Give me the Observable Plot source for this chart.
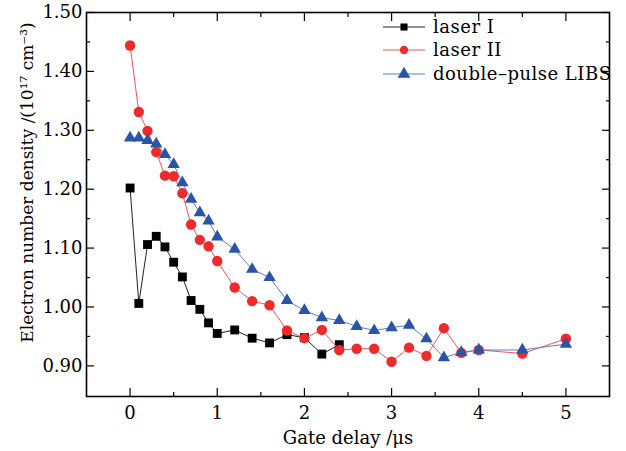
<!DOCTYPE html>
<html><head><meta charset="utf-8">
<script src="https://cdn.jsdelivr.net/npm/d3@7"></script>
<script src="https://cdn.jsdelivr.net/npm/@observablehq/plot@0.6"></script>
<style>
html,body{margin:0;padding:0;background:#fff;}
#chart{width:626px;height:451px;}
</style></head><body><div id="chart"></div>
<script>
// ---- data ----
const seriesNames = ["laser I", "laser II", "double\u2013pulse LIBS"];
const seriesColors = ["#000000", "#ee2a2a", "#2a55a6"];
const lineColors = ["#222222", "#f05555", "#5b7ec4"];
const seriesSymbols = ["square", "circle", "triangle"];

const xLaser1 = [0, 0.1, 0.2, 0.3, 0.4, 0.5, 0.6, 0.7, 0.8, 0.9, 1.0, 1.2, 1.4, 1.6, 1.8, 2.0, 2.2, 2.4];
const yLaser1 = [1.202, 1.006, 1.106, 1.120, 1.102, 1.076, 1.051, 1.011, 0.996, 0.973, 0.955, 0.961, 0.947, 0.939, 0.953, 0.948, 0.920, 0.936];

const xLong = [0, 0.1, 0.2, 0.3, 0.4, 0.5, 0.6, 0.7, 0.8, 0.9, 1.0, 1.2, 1.4, 1.6, 1.8, 2.0, 2.2, 2.4, 2.6, 2.8, 3.0, 3.2, 3.4, 3.6, 3.8, 4.0, 4.5, 5.0];
const yLaser2 = [1.444, 1.331, 1.299, 1.263, 1.223, 1.222, 1.193, 1.140, 1.114, 1.103, 1.078, 1.033, 1.010, 1.003, 0.960, 0.947, 0.961, 0.927, 0.929, 0.929, 0.907, 0.931, 0.917, 0.964, 0.922, 0.927, 0.921, 0.946];
const yDouble = [1.287, 1.287, 1.283, 1.277, 1.259, 1.242, 1.211, 1.183, 1.160, 1.146, 1.119, 1.098, 1.064, 1.050, 1.011, 0.994, 0.982, 0.977, 0.967, 0.960, 0.965, 0.969, 0.946, 0.914, 0.923, 0.927, 0.927, 0.937];

const xMajor = [0, 1, 2, 3, 4, 5];
const xMinor = [0.5, 1.5, 2.5, 3.5, 4.5];
const yMajor = [0.90, 1.00, 1.10, 1.20, 1.30, 1.40, 1.50];
const yMinor = [0.95, 1.05, 1.15, 1.25, 1.35, 1.45];
const xTitle = "Gate delay /\u03bcs";
const yTitle = "Electron number density /(10\u00b9\u2077 cm\u207b\u00b3)";

const toRows = (xs, ys) => xs.map((x, i) => ({x, y: ys[i]}));
const data = [toRows(xLaser1, yLaser1), toRows(xLong, yLaser2), toRows(xLong, yDouble)];
const dotR = [5, 5.2, 4.6];

const seriesMarks = data.flatMap((rows, i) => [
  Plot.line(rows, {x: "x", y: "y", stroke: lineColors[i], strokeWidth: 1}),
  Plot.dot(rows, {x: "x", y: "y", symbol: seriesSymbols[i], r: dotR[i], fill: seriesColors[i], stroke: "none"})
]);

const chart = Plot.plot({
  width: 626, height: 451,
  marginLeft: 86, marginRight: 17, marginTop: 12, marginBottom: 55,
  style: {fontFamily: "'DejaVu Serif', serif", fontSize: "18px", background: "#fff", color: "#000"},
  x: {domain: [-0.5, 5.5]},
  y: {domain: [0.848, 1.5]},
  marks: [
    // tick labels
    Plot.axisX(xMajor, {anchor: "bottom", tickSize: 0, tickPadding: 10, tickFormat: d => String(d), label: null}),
    Plot.axisY(yMajor, {anchor: "left", tickSize: 0, tickPadding: 4, tickFormat: d3.format(".2f"), label: null}),
    // inward ticks
    Plot.axisX(xMajor, {anchor: "bottom", tickSize: -8, fill: "none", label: null, strokeWidth: 1.2}),
    Plot.axisX(xMinor, {anchor: "bottom", tickSize: -4, fill: "none", label: null, strokeWidth: 1.2}),
    Plot.axisX(xMajor, {anchor: "top", tickSize: -8, fill: "none", label: null, strokeWidth: 1.2}),
    Plot.axisX(xMinor, {anchor: "top", tickSize: -4, fill: "none", label: null, strokeWidth: 1.2}),
    Plot.axisY(yMajor, {anchor: "left", tickSize: -8, fill: "none", label: null, strokeWidth: 1.2}),
    Plot.axisY(yMinor, {anchor: "left", tickSize: -4, fill: "none", label: null, strokeWidth: 1.2}),
    Plot.axisY(yMajor, {anchor: "right", tickSize: -8, fill: "none", label: null, strokeWidth: 1.2}),
    Plot.axisY(yMinor, {anchor: "right", tickSize: -4, fill: "none", label: null, strokeWidth: 1.2}),
    // titles
    Plot.text([xTitle], {text: d => d, frameAnchor: "bottom", dy: 42, lineAnchor: "middle", textAnchor: "middle"}),
    Plot.text([yTitle], {text: d => d, frameAnchor: "left", rotate: -90, dx: -59, dy: -22, lineAnchor: "middle", textAnchor: "middle", fontSize: 17}),
    ...seriesMarks,
    Plot.frame({stroke: "#000", strokeWidth: 1.6})
  ]
});

// legend (inside plot, top-right)
const svg = d3.select(chart);
const legendY = [27, 50, 74];
const legendSize = [50, 55, 70];
const symbolTypes = [d3.symbolSquare, d3.symbolCircle, d3.symbolTriangle];
const lg = svg.append("g").attr("font-family", "'DejaVu Serif', serif").attr("font-size", 18)
  .attr("letter-spacing", "0.5px").attr("text-anchor", "start");
seriesNames.forEach((name, i) => {
  const g = lg.append("g").attr("transform", `translate(0,${legendY[i]})`);
  g.append("line").attr("x1", 383).attr("x2", 425).attr("y1", 0).attr("y2", 0)
    .attr("stroke", lineColors[i]).attr("stroke-width", 1);
  g.append("path").attr("d", d3.symbol(symbolTypes[i], legendSize[i])())
    .attr("transform", "translate(404,0)").attr("fill", seriesColors[i]);
  g.append("text").attr("x", 433).attr("y", 0).attr("dy", "0.35em").attr("fill", "#000").attr("text-anchor", "start").text(name);
});

document.getElementById("chart").appendChild(chart);
</script>
</body></html>
